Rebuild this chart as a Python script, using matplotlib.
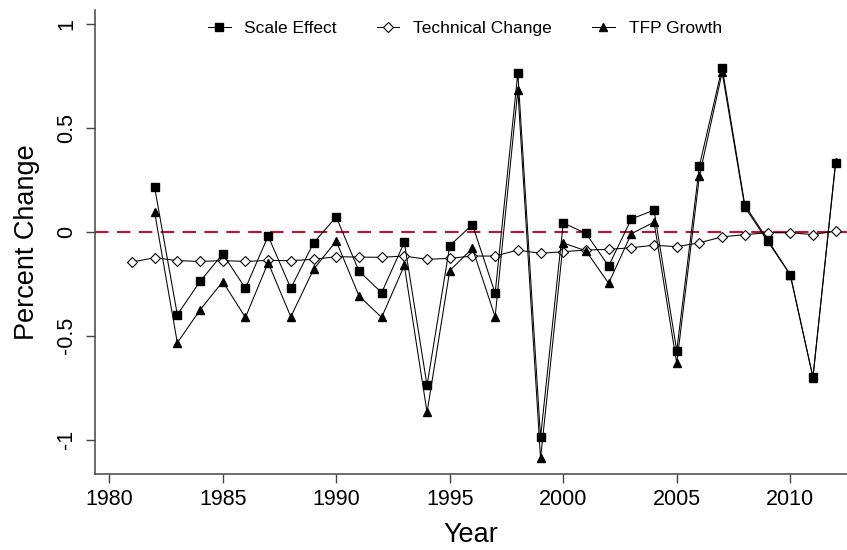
import matplotlib
matplotlib.use("Agg")
from matplotlib import pyplot as plt

plt.rcParams['font.family'] = ['Liberation Sans', 'DejaVu Sans']

## data ##

years_tech = list(range(1981, 2013))
years = list(range(1982, 2013))

scale_effect = [0.213, -0.399, -0.239, -0.107, -0.272, -0.021, -0.272, -0.054,
                0.071, -0.189, -0.293, -0.051, -0.739, -0.067, 0.034, -0.296,
                0.763, -0.989, 0.042, -0.008, -0.165, 0.061, 0.104, -0.572,
                0.317, 0.789, 0.128, -0.038, -0.207, -0.699, 0.330]

technical_change = [-0.146, -0.125, -0.139, -0.143, -0.139, -0.143, -0.138, -0.139,
                    -0.133, -0.120, -0.122, -0.123, -0.117, -0.133, -0.128, -0.117,
                    -0.117, -0.088, -0.104, -0.096, -0.088, -0.085, -0.077, -0.065,
                    -0.072, -0.053, -0.025, -0.014, -0.005, -0.005, -0.014, 0.003]

tfp_growth = [0.093, -0.534, -0.376, -0.240, -0.412, -0.149, -0.409, -0.181,
              -0.045, -0.308, -0.412, -0.162, -0.868, -0.187, -0.080, -0.409,
              0.681, -1.090, -0.054, -0.092, -0.248, -0.010, 0.046, -0.633,
              0.269, 0.766, 0.118, -0.045, -0.207, -0.701, 0.337]

x_ticks = [1980, 1985, 1990, 1995, 2000, 2005, 2010]
y_ticks = [-1, -0.5, 0, 0.5, 1]
y_tick_labels = ['-1', '-0.5', '0', '0.5', '1']

## figure ##

fig = plt.figure(figsize=(8.47, 5.5), dpi=100)
ax = fig.add_axes([0.1118, 0.138, 0.8882, 0.844])

ax.axhline(0, color='#c8102e', lw=1.5, dashes=(6.5, 4), zorder=1)

ax.plot(years_tech, technical_change, color='black', lw=0.75, marker='D', ms=4.6,
        mfc='white', mec='black', mew=0.8, label='Technical Change', zorder=2)
ax.plot(years, tfp_growth, color='black', lw=0.75, marker='^', ms=6.3,
        mfc='black', mec='black', label='TFP Growth', zorder=3)
ax.plot(years, scale_effect, color='black', lw=0.75, marker='s', ms=5.8,
        mfc='black', mec='black', label='Scale Effect', zorder=4)

ax.set_xlim(1979.36, 2012.5)
ax.set_ylim(-1.165, 1.066)

ax.set_xticks(x_ticks)
ax.set_yticks(y_ticks)
ax.set_yticklabels(y_tick_labels, rotation=90, va='center')
ax.tick_params(axis='both', labelsize=15.5, length=6.5, width=1.0, color='#444444')
ax.tick_params(axis='y', pad=6)
ax.tick_params(axis='x', pad=4)

for side in ['top', 'right']:
    ax.spines[side].set_visible(False)
for side in ['left', 'bottom']:
    ax.spines[side].set_linewidth(1.1)
    ax.spines[side].set_color('#444444')

ax.set_xlabel('Year', fontsize=19.5, labelpad=9)
ax.set_ylabel('Percent Change', fontsize=19.5, labelpad=12)

#legend in Scale / Technical / TFP order
handles, labels = ax.get_legend_handles_labels()
order = [2, 0, 1]
ax.legend([handles[i] for i in order], [labels[i] for i in order],
          loc='upper center', ncol=3, frameon=False, fontsize=12.5,
          handlelength=1.3, handletextpad=0.8, columnspacing=2.3,
          bbox_to_anchor=(0.492, 1.01))

fig.savefig('out.png', dpi=100)
